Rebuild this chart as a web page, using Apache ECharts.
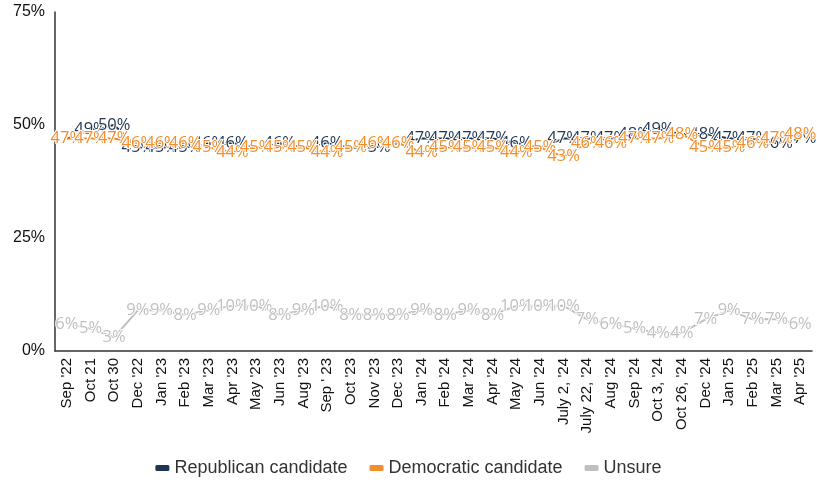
<!DOCTYPE html>
<html>
<head>
<meta charset="utf-8">
<script src="https://cdn.jsdelivr.net/npm/echarts@6/dist/echarts.min.js"></script>
<style>
html,body{margin:0;padding:0;background:#fff;}
#main{width:817px;height:485px;}
</style>
</head>
<body>
<div id="main"></div>
<script>
const categories = ["Sep '22","Oct 21","Oct 30","Dec '22","Jan '23","Feb '23","Mar '23","Apr '23","May '23","Jun '23","Aug '23","Sep ' 23","Oct '23","Nov '23","Dec '23","Jan '24","Feb '24","Mar '24","Apr '24","May '24","Jun '24","July 2, '24","July 22, '24","Aug '24","Sep '24","Oct 3, '24","Oct 26, '24","Dec '24","Jan '25","Feb '25","Mar '25","Apr '25"];
const republican = [47,49,50,45,45,45,46,46,45,46,45,46,45,45,46,47,47,47,47,46,45,47,47,47,48,49,48,48,47,47,46,47];
const democratic = [47,47,47,46,46,46,45,44,45,45,45,44,45,46,46,44,45,45,45,44,45,43,46,46,47,47,48,45,45,46,47,48];
const unsure = [6,5,3,9,9,8,9,10,10,8,9,10,8,8,8,9,8,9,8,10,10,10,7,6,5,4,4,7,9,7,7,6];
const yTicks = [0,25,50,75];

const chart = echarts.init(document.getElementById('main'));
function mk(name, data, color){
  return {
    name: name, type: 'line', data: data, symbol: 'circle', symbolSize: 0, showSymbol: true,
    lineStyle: {color: color, width: 2}, itemStyle: {color: color},
    label: {show: true, position: 'inside', formatter: '{c}%', color: color,
      fontFamily: 'Open Sans', fontSize: 16.5, textBorderColor: '#fff', textBorderWidth: 2},
    labelLayout: {hideOverlap: false},
    animation: false
  };
}
chart.setOption({
  animation: false,
  grid: {left: 55, right: 5, top: 12, bottom: 134},
  legend: {
    bottom: 3, left: 'center', icon: 'roundRect', itemWidth: 14, itemHeight: 6, itemGap: 22,
    textStyle: {fontFamily: 'Liberation Sans', fontSize: 18, color: '#333'},
    data: ['Republican candidate','Democratic candidate','Unsure']
  },
  xAxis: {
    type: 'category', data: categories, boundaryGap: true,
    axisLine: {lineStyle: {color: '#333', width: 1.5}},
    axisTick: {show: false},
    axisLabel: {rotate: 90, interval: 0, fontFamily: 'Liberation Sans', fontSize: 15, color: '#111', margin: 7}
  },
  yAxis: {
    type: 'value', min: yTicks[0], max: yTicks[yTicks.length-1], interval: 25,
    axisLine: {show: true, lineStyle: {color: '#333', width: 1.5}},
    axisTick: {show: false}, splitLine: {show: false},
    axisLabel: {formatter: '{value}%', fontFamily: 'Liberation Sans', fontSize: 16, color: '#111', margin: 10}
  },
  series: [
    mk('Republican candidate', republican, '#1F3552'),
    mk('Democratic candidate', democratic, '#F28E2B'),
    mk('Unsure', unsure, '#BFBFBF')
  ]
});
</script>
</body>
</html>
